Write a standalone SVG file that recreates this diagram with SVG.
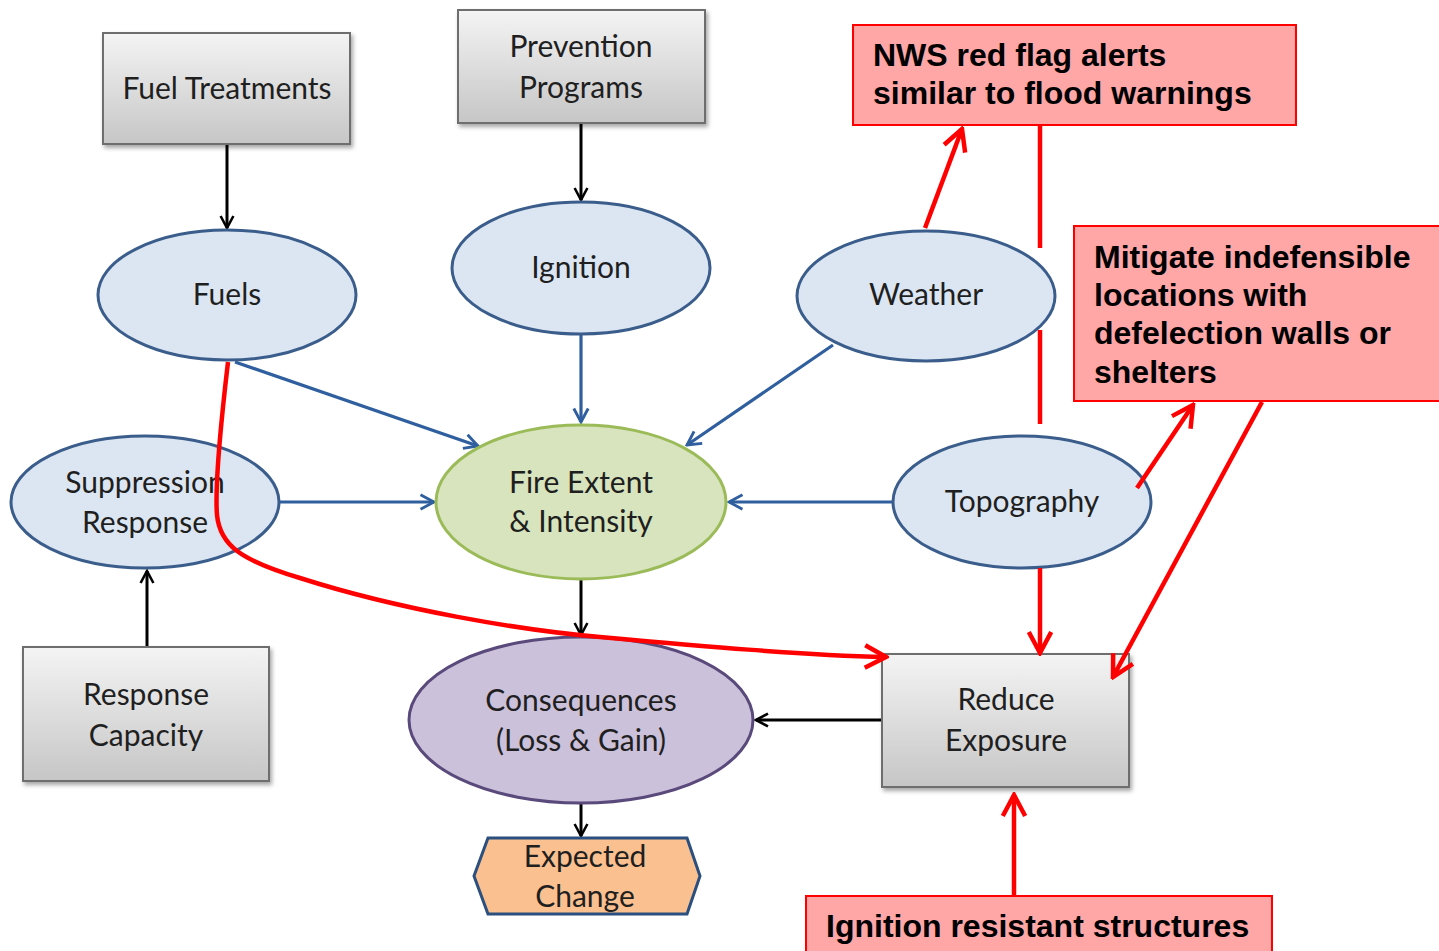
<svg xmlns="http://www.w3.org/2000/svg" width="1439" height="951" viewBox="0 0 1439 951">
  <defs>
    <linearGradient id="grayFill" x1="0" y1="0" x2="0" y2="1">
      <stop offset="0" stop-color="#f4f4f4"/>
      <stop offset="1" stop-color="#c6c6c6"/>
    </linearGradient>
    <filter id="shadow" x="-10%" y="-10%" width="130%" height="130%">
      <feDropShadow dx="2" dy="3" stdDeviation="2" flood-color="#000" flood-opacity="0.35"/>
    </filter>
    <marker id="arrBlack" viewBox="0 0 20 20" refX="18" refY="10" markerWidth="16" markerHeight="16" markerUnits="userSpaceOnUse" orient="auto">
      <path d="M3,2 L18,10 L3,18" fill="none" stroke="#000" stroke-width="3.2"/>
    </marker>
    <marker id="arrBlue" viewBox="0 0 20 20" refX="18" refY="10" markerWidth="18" markerHeight="18" markerUnits="userSpaceOnUse" orient="auto">
      <path d="M3,2 L18,10 L3,18" fill="none" stroke="#2f5f9e" stroke-width="3.2"/>
    </marker>
    <marker id="arrRed" viewBox="0 0 20 20" refX="18" refY="10" markerWidth="28" markerHeight="28" markerUnits="userSpaceOnUse" orient="auto">
      <path d="M3,2 L18,10 L3,18" fill="none" stroke="#ff0000" stroke-width="3.2"/>
    </marker>
  </defs>
  <style>
    .box { fill: url(#grayFill); stroke: #6e6e6e; stroke-width: 2; filter: url(#shadow); }
    .oval { fill: #dce6f2; stroke: #3a5d8b; stroke-width: 3; }
    .lbl { font-family: Lato, "Open Sans", "Liberation Sans", sans-serif; font-size: 30px; fill: #1f1f1f; text-anchor: middle; }
    .note { fill: #ffa6a6; stroke: #ff0000; stroke-width: 2; }
    .noteText { font-family: "Liberation Sans", Arial, sans-serif; font-weight: bold; font-size: 32px; fill: #000; }
    .blk { stroke: #000; stroke-width: 3; fill: none; marker-end: url(#arrBlack); }
    .blu { stroke: #2f5f9e; stroke-width: 3.2; fill: none; marker-end: url(#arrBlue); }
    .red { stroke: #ff0000; stroke-width: 4.5; fill: none; }
    .redA { stroke: #ff0000; stroke-width: 4.5; fill: none; marker-end: url(#arrRed); }
  </style>

  <rect width="1439" height="951" fill="#ffffff"/>

  <!-- model connectors -->
  <g id="connectors">
    <line class="blk" x1="227" y1="144" x2="227" y2="228"/>
    <line class="blk" x1="581" y1="123" x2="581" y2="200"/>
    <line class="blk" x1="147" y1="647" x2="147" y2="571"/>
    <line class="blk" x1="581" y1="580" x2="581" y2="635"/>
    <line class="blk" x1="581" y1="803" x2="581" y2="836"/>
    <line class="blk" x1="882" y1="720" x2="756" y2="720"/>
    <line class="blu" x1="235" y1="362" x2="478" y2="446"/>
    <line class="blu" x1="581" y1="334" x2="581" y2="422"/>
    <line class="blu" x1="833" y1="345" x2="687" y2="445"/>
    <line class="blu" x1="279" y1="502" x2="434" y2="502"/>
    <line class="blu" x1="893" y1="502" x2="729" y2="502"/>
  </g>

  <!-- nodes -->
  <g id="fuel-treatments">
    <rect class="box" x="103" y="33" width="247" height="111"/>
    <text class="lbl" x="227" y="99">Fuel Treatments</text>
  </g>
  <g id="prevention-programs">
    <rect class="box" x="458" y="10" width="247" height="113"/>
    <text class="lbl" x="581" y="57">Prevention</text>
    <text class="lbl" x="581" y="98">Programs</text>
  </g>
  <g id="fuels">
    <ellipse class="oval" cx="227" cy="295" rx="129" ry="65"/>
    <text class="lbl" x="227" y="305">Fuels</text>
  </g>
  <g id="ignition">
    <ellipse class="oval" cx="581" cy="268" rx="129" ry="66"/>
    <text class="lbl" x="581" y="278">Ignition</text>
  </g>
  <g id="weather">
    <ellipse class="oval" cx="926" cy="296" rx="129" ry="65"/>
    <text class="lbl" x="926" y="305">Weather</text>
  </g>
  <g id="suppression-response">
    <ellipse class="oval" cx="145" cy="502" rx="134" ry="66"/>
    <text class="lbl" x="145" y="493">Suppression</text>
    <text class="lbl" x="145" y="533">Response</text>
  </g>
  <g id="fire-extent">
    <ellipse cx="581" cy="502" rx="145" ry="77" fill="#d7e4bd" stroke="#9bbb59" stroke-width="3"/>
    <text class="lbl" x="581" y="493">Fire Extent</text>
    <text class="lbl" x="581" y="532">&amp; Intensity</text>
  </g>
  <g id="topography">
    <ellipse class="oval" cx="1022" cy="502" rx="129" ry="66"/>
    <text class="lbl" x="1022" y="512">Topography</text>
  </g>
  <g id="response-capacity">
    <rect class="box" x="23" y="647" width="246" height="134"/>
    <text class="lbl" x="146" y="705">Response</text>
    <text class="lbl" x="146" y="746">Capacity</text>
  </g>
  <g id="consequences">
    <ellipse cx="581" cy="720" rx="172" ry="83" fill="#ccc1da" stroke="#5a4a7c" stroke-width="3"/>
    <text class="lbl" x="581" y="711">Consequences</text>
    <text class="lbl" x="581" y="751">(Loss &amp; Gain)</text>
  </g>
  <g id="expected-change">
    <polygon points="474,876 488,838 687,838 700,876 687,914 488,914" fill="#fac090" stroke="#2b4f7e" stroke-width="3"/>
    <text class="lbl" x="585" y="867">Expected</text>
    <text class="lbl" x="585" y="907">Change</text>
  </g>
  <g id="reduce-exposure">
    <rect class="box" x="882" y="654" width="247" height="133"/>
    <text class="lbl" x="1006" y="710">Reduce</text>
    <text class="lbl" x="1006" y="751">Exposure</text>
  </g>

  <!-- red annotation links -->
  <g id="annotation-connectors">
    <path class="redA" d="M228,362 C220,430 215,490 217,515 C220,545 240,560 300,578 C400,610 520,630 600,637 C700,646 800,655 886,657"/>
    <line class="redA" x1="925" y1="228" x2="962" y2="129"/>
    <line class="red" x1="1040" y1="125" x2="1040" y2="248"/>
    <line class="red" x1="1040" y1="330" x2="1040" y2="424"/>
    <line class="redA" x1="1040" y1="568" x2="1040" y2="653"/>
    <line class="redA" x1="1137" y1="488" x2="1193" y2="405"/>
    <line class="redA" x1="1262" y1="402" x2="1113" y2="677"/>
    <line class="redA" x1="1014" y1="895" x2="1014" y2="795"/>
  </g>

  <!-- red notes -->
  <g id="note-nws">
    <rect class="note" x="853" y="25" width="443" height="100"/>
    <text class="noteText" x="873" y="66">NWS red flag alerts</text>
    <text class="noteText" x="873" y="104">similar to flood warnings</text>
  </g>
  <g id="note-mitigate">
    <rect class="note" x="1074" y="226" width="370" height="175"/>
    <text class="noteText" x="1094" y="268">Mitigate indefensible</text>
    <text class="noteText" x="1094" y="306">locations with</text>
    <text class="noteText" x="1094" y="344">defelection walls or</text>
    <text class="noteText" x="1094" y="383">shelters</text>
  </g>
  <g id="note-ignition">
    <rect class="note" x="806" y="896" width="466" height="60"/>
    <text class="noteText" x="826" y="937">Ignition resistant structures</text>
  </g>
</svg>
